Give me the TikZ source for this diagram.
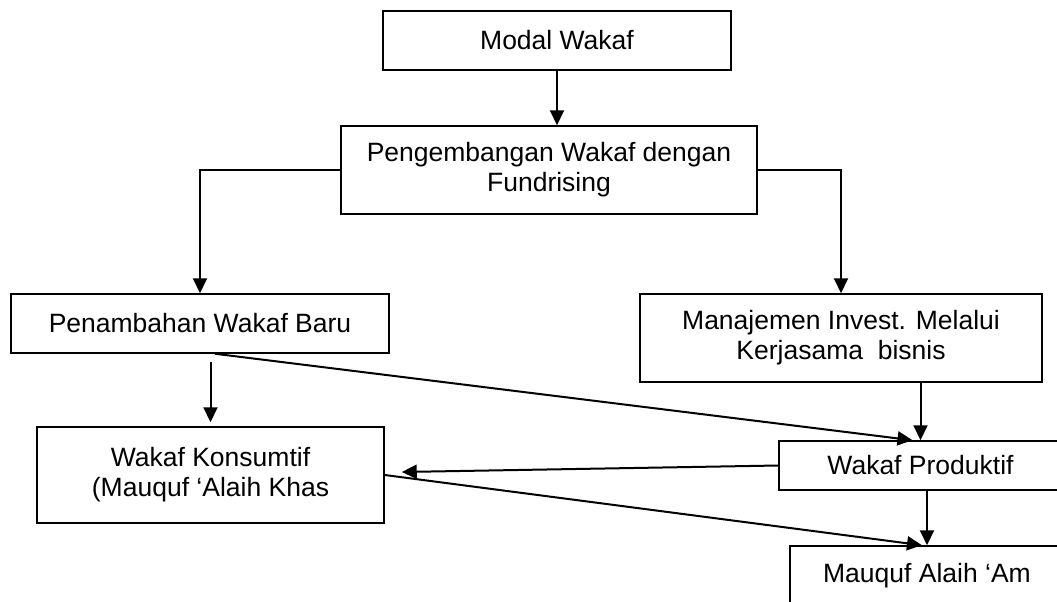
\documentclass[tikz,border=0pt]{standalone}
\usepackage{fontspec}
\setmainfont{Liberation Sans}
\usetikzlibrary{arrows.meta}

\begin{document}
\begin{tikzpicture}[x=1pt, y=-1pt, font=\fontsize{26.5pt}{30pt}\selectfont,
    box/.style={draw, line width=1.5pt, inner sep=0pt, align=center},
    flow/.style={-{Triangle[length=15pt, width=14pt]}, line width=2pt}]

   \useasboundingbox (0,0) rectangle (1057,602);

   \node[box, minimum width=348pt, minimum height=59pt] (modal) at (557,40.5) {Modal Wakaf};
   \node[box, minimum width=416pt, minimum height=88pt] (peng) at (549,170) {Pengembangan Wakaf dengan\\ Fundrising};
   \node[box, minimum width=378pt, minimum height=59pt] (tambah) at (200,323.5) {Penambahan Wakaf Baru};
   \node[box, minimum width=402pt, minimum height=88pt] (manaj) at (841,338) {Manajemen Invest. Melalui\\ Kerjasama~ bisnis};
   \node[box, minimum width=347pt, minimum height=96pt] (konsum) at (210.5,475) {Wakaf Konsumtif\\ (Mauquf ‘Alaih Khas};
   \node[box, minimum width=283pt, minimum height=49pt] (produktif) at (920.5,465.5) {Wakaf Produktif};
   \node[box, minimum width=274pt, minimum height=60pt] (mauquf) at (927,576) {Mauquf Alaih ‘Am};

   \draw[flow] (modal.south) -- (modal.south |- peng.north);
   \draw[flow] (peng.west) -| (tambah.north);
   \draw[flow] (peng.east) -| (manaj.north);
   \draw[flow, shorten <=8pt, shorten >=4pt] (konsum.north |- tambah.south) -- (konsum.north);
   \draw[flow] ([xshift=15pt]tambah.south) -- ([xshift=-8pt]produktif.north);
   \draw[flow] (produktif.north |- manaj.south) -- (produktif.north);
   \draw[flow] (produktif.west) -- ([shift={(17,-3)}]konsum.east);
   \draw[flow] (produktif.south -| mauquf.north) -- (mauquf.north);
   \draw[flow] (konsum.east) -- ([xshift=-5pt]mauquf.north);
\end{tikzpicture}
\end{document}
